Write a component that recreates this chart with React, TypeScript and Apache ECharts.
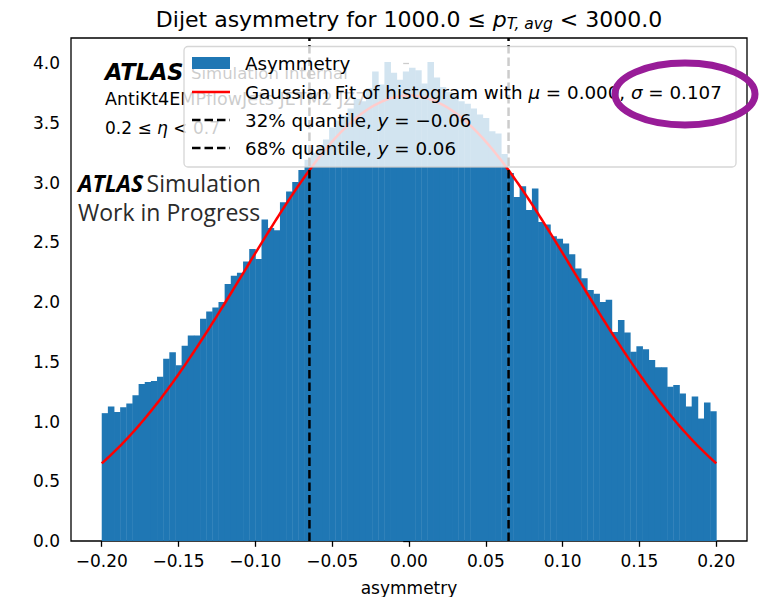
import React, { useEffect, useRef } from "react";
import * as echarts from "echarts";

// Normalised histogram of the dijet asymmetry, 100 bins of width 0.004 from -0.2 to 0.2
const HIST_START = -0.2;
const BIN_WIDTH = 0.004;
const HIST_VALUES = [
  1.07, 1.125, 1.08, 1.12, 1.15, 1.22, 1.315, 1.33, 1.34, 1.375,
  1.525, 1.58, 1.47, 1.635, 1.72, 1.72, 1.86, 1.92, 1.955, 2.0,
  2.15, 2.22, 2.245, 2.34, 2.445, 2.36, 2.69, 2.62, 2.6, 2.835,
  2.925, 3.005, 3.105, 3.19, 3.25, 3.3, 3.36, 3.46, 3.52, 3.56,
  3.62, 3.7, 3.68, 3.79, 3.93, 3.82, 4.01, 3.92, 3.86, 3.93,
  3.96, 3.94, 3.83, 4.01, 3.88, 3.8, 3.76, 3.73, 3.68, 3.66,
  3.62, 3.57, 3.54, 3.43, 3.41, 3.24, 3.08, 2.88, 2.97, 2.77,
  2.95, 2.67, 2.65, 2.55, 2.53, 2.49, 2.4, 2.28, 2.2, 2.1,
  2.07, 2.0, 2.02, 1.75, 1.85, 1.745, 1.585, 1.63, 1.605, 1.515,
  1.455, 1.455, 1.29, 1.305, 1.235, 1.125, 1.21, 1.025, 1.16, 1.085,
];

// Gaussian fit parameters and quantiles
const FIT_MU = 0.0;
const FIT_SIGMA = 0.107;
const QUANTILE_32 = -0.0648;
const QUANTILE_68 = 0.0648;

const X_TICKS = [-0.2, -0.15, -0.1, -0.05, 0, 0.05, 0.1, 0.15, 0.2];
const Y_TICKS = [0, 0.5, 1.0, 1.5, 2.0, 2.5, 3.0, 3.5, 4.0];
const X_MIN = -0.22;
const X_MAX = 0.22;
const Y_MAX = 4.21;

const BLUE = "#1f77b4";
const FONT = "DejaVu Sans";

const fmtSigned = (v: number, d: number) =>
  (v < -1e-9 ? "−" : "") + Math.abs(v).toFixed(d);

export default function App() {
  const ref = useRef<HTMLDivElement>(null);

  useEffect(() => {
    if (!ref.current) return;
    const chart = echarts.init(ref.current, undefined, { renderer: "svg" });

    const histData = HIST_VALUES.map((v, i) => [
      HIST_START + i * BIN_WIDTH,
      HIST_START + (i + 1) * BIN_WIDTH,
      v,
    ]);

    // Fitted normal density evaluated over the histogram range
    const norm = 1 / (FIT_SIGMA * Math.sqrt(2 * Math.PI));
    const fitData: number[][] = [];
    for (let k = 0; k <= 400; k++) {
      const x = HIST_START + k * 0.001;
      const z = (x - FIT_MU) / FIT_SIGMA;
      fitData.push([x, norm * Math.exp(-0.5 * z * z)]);
    }

    const rowY = [63, 92, 120, 148];
    const legendFont = 18.3;
    const legendRich = {
      n: { fontFamily: FONT, fontSize: legendFont, fill: "#000" },
      i: { fontFamily: FONT, fontSize: legendFont, fontStyle: "italic", fill: "#000" },
    };

    const option: any = {
      animation: false,
      backgroundColor: "#fff",
      grid: {
        left: 71,
        right: 21,
        top: 38,
        bottom: 56,
        containLabel: false,
        outerBoundsMode: "none",
        show: true,
        borderColor: "#000",
        borderWidth: 1.3,
        backgroundColor: "transparent",
      },
      xAxis: {
        type: "value",
        min: X_MIN,
        max: X_MAX,
        axisLine: { show: false },
        splitLine: { show: false },
        axisTick: {
          show: true,
          customValues: X_TICKS,
          length: 5.8,
          lineStyle: { color: "#000", width: 1.3 },
        },
        axisLabel: {
          customValues: X_TICKS,
          margin: 11,
          color: "#000",
          fontFamily: FONT,
          fontSize: 17,
          formatter: (v: number) => fmtSigned(v, 2),
        },
        name: "asymmetry",
        nameLocation: "middle",
        nameGap: 38,
        nameTextStyle: { color: "#000", fontFamily: FONT, fontSize: 17 },
      },
      yAxis: {
        type: "value",
        min: 0,
        max: Y_MAX,
        axisLine: { show: false },
        splitLine: { show: false },
        axisTick: {
          show: true,
          customValues: Y_TICKS,
          length: 5.8,
          lineStyle: { color: "#000", width: 1.3 },
        },
        axisLabel: {
          customValues: Y_TICKS,
          margin: 11,
          color: "#000",
          fontFamily: FONT,
          fontSize: 17,
          formatter: (v: number) => v.toFixed(1),
        },
      },
      series: [
        {
          type: "custom",
          name: "Asymmetry",
          data: histData,
          encode: { x: [0, 1], y: 2 },
          clip: true,
          z: 2,
          renderItem: (_params: any, api: any) => {
            const p0 = api.coord([api.value(0), api.value(2)]);
            const p1 = api.coord([api.value(1), 0]);
            return {
              type: "rect",
              shape: {
                x: p0[0],
                y: p0[1],
                width: p1[0] - p0[0] + 0.4,
                height: p1[1] - p0[1],
              },
              style: { fill: BLUE },
            };
          },
        },
        {
          type: "line",
          name: "fit",
          data: fitData,
          showSymbol: false,
          symbol: "none",
          z: 3,
          lineStyle: { color: "#ff0000", width: 2.5 },
        },
        {
          type: "line",
          name: "q32",
          data: [
            [QUANTILE_32, 0],
            [QUANTILE_32, Y_MAX],
          ],
          symbol: "none",
          z: 4,
          lineStyle: { color: "#000", width: 2.5, type: [8.5, 4] },
        },
        {
          type: "line",
          name: "q68",
          data: [
            [QUANTILE_68, 0],
            [QUANTILE_68, Y_MAX],
          ],
          symbol: "none",
          z: 4,
          lineStyle: { color: "#000", width: 2.5, type: [8.5, 4] },
        },
      ],
      graphic: [
        // Title
        {
          type: "text",
          x: 409,
          y: 19,
          z: 10,
          style: {
            text: "{a|Dijet asymmetry for 1000.0 ≤ }{p|p}{s|T, avg}{a| < 3000.0}",
            align: "center",
            verticalAlign: "middle",
            rich: {
              a: { fontFamily: FONT, fontSize: 22, lineHeight: 26, fill: "#000" },
              p: { fontFamily: FONT, fontSize: 22, lineHeight: 26, fontStyle: "italic", fill: "#000" },
              s: {
                fontFamily: FONT,
                fontSize: 15.5,
                lineHeight: 12,
                fontStyle: "italic",
                verticalAlign: "bottom",
                fill: "#000",
              },
            },
          },
        },
        // Upper-left labels (partly under the legend)
        {
          type: "text",
          x: 105,
          y: 72,
          z: 10,
          style: {
            text: "ATLAS",
            fontFamily: FONT,
            fontSize: 22.5,
            fontWeight: "bold",
            fontStyle: "italic",
            fill: "#000",
            verticalAlign: "middle",
          },
        },
        {
          type: "text",
          x: 191,
          y: 73,
          z: 10,
          style: {
            text: "Simulation Internal",
            fontFamily: FONT,
            fontSize: 16.5,
            fill: "#000",
            verticalAlign: "middle",
          },
        },
        {
          type: "text",
          x: 105,
          y: 99,
          z: 10,
          style: {
            text: "AntiKt4EMPflowJets JETM2 JZ7",
            fontFamily: FONT,
            fontSize: 17.5,
            fill: "#000",
            verticalAlign: "middle",
          },
        },
        {
          type: "text",
          x: 105,
          y: 128,
          z: 10,
          style: {
            text: "{n|0.2 ≤ }{i|η}{n| < 0.7}",
            verticalAlign: "middle",
            rich: {
              n: { fontFamily: FONT, fontSize: 17, fill: "#000" },
              i: { fontFamily: FONT, fontSize: 17, fontStyle: "italic", fill: "#000" },
            },
          },
        },
        // Legend
        {
          type: "rect",
          z: 50,
          shape: { x: 184, y: 46.5, width: 552, height: 120.5, r: 4 },
          style: { fill: "rgba(255,255,255,0.8)", stroke: "rgba(204,204,204,0.8)", lineWidth: 1.3 },
        },
        {
          type: "rect",
          z: 51,
          shape: { x: 192, y: rowY[0] - 6, width: 38, height: 12 },
          style: { fill: BLUE },
        },
        {
          type: "line",
          z: 51,
          shape: { x1: 192, y1: rowY[1], x2: 230, y2: rowY[1] },
          style: { stroke: "#ff0000", lineWidth: 2.5 },
        },
        {
          type: "line",
          z: 51,
          shape: { x1: 192, y1: rowY[2], x2: 230, y2: rowY[2] },
          style: { stroke: "#000", lineWidth: 2.5, lineDash: [8.5, 4] },
        },
        {
          type: "line",
          z: 51,
          shape: { x1: 192, y1: rowY[3], x2: 230, y2: rowY[3] },
          style: { stroke: "#000", lineWidth: 2.5, lineDash: [8.5, 4] },
        },
        {
          type: "text",
          z: 51,
          x: 245,
          y: rowY[0],
          style: { text: "{n|Asymmetry}", verticalAlign: "middle", rich: legendRich },
        },
        {
          type: "text",
          z: 51,
          x: 245,
          y: rowY[1],
          style: {
            text:
              "{n|Gaussian Fit of histogram with }{i|μ}{n| = " +
              FIT_MU.toFixed(3) +
              ", }{i|σ}{n| = " +
              FIT_SIGMA.toFixed(3) +
              "}",
            verticalAlign: "middle",
            rich: legendRich,
          },
        },
        {
          type: "text",
          z: 51,
          x: 245,
          y: rowY[2],
          style: {
            text: "{n|32% quantile, }{i|y}{n| = " + fmtSigned(QUANTILE_32, 2) + "}",
            verticalAlign: "middle",
            rich: legendRich,
          },
        },
        {
          type: "text",
          z: 51,
          x: 245,
          y: rowY[3],
          style: {
            text: "{n|68% quantile, }{i|y}{n| = " + fmtSigned(QUANTILE_68, 2) + "}",
            verticalAlign: "middle",
            rich: legendRich,
          },
        },
        // Work-in-progress stamp
        {
          type: "text",
          x: 78,
          y: 183,
          z: 55,
          style: {
            text: "{b|ATLAS} {r|Simulation}",
            verticalAlign: "middle",
            rich: {
              b: {
                fontFamily: "Open Sans",
                fontSize: 23,
                fontWeight: "bold",
                fontStyle: "italic",
                fill: "#000",
              },
              r: { fontFamily: "Open Sans", fontSize: 23, fill: "#2b2b2b" },
            },
          },
        },
        {
          type: "text",
          x: 78,
          y: 212,
          z: 55,
          style: {
            text: "Work in Progress",
            fontFamily: "Open Sans",
            fontSize: 23,
            fill: "#2b2b2b",
            verticalAlign: "middle",
          },
        },
        // Highlight around the fitted width
        {
          type: "ellipse",
          z: 60,
          shape: { cx: 685, cy: 94, rx: 70, ry: 31 },
          style: { fill: "none", stroke: "#981c98", lineWidth: 7 },
        },
      ],
    };

    chart.setOption(option);
    return () => chart.dispose();
  }, []);

  return (
    <div
      ref={ref}
      style={{ position: "fixed", left: 0, top: 0, width: 768, height: 597 }}
    />
  );
}
